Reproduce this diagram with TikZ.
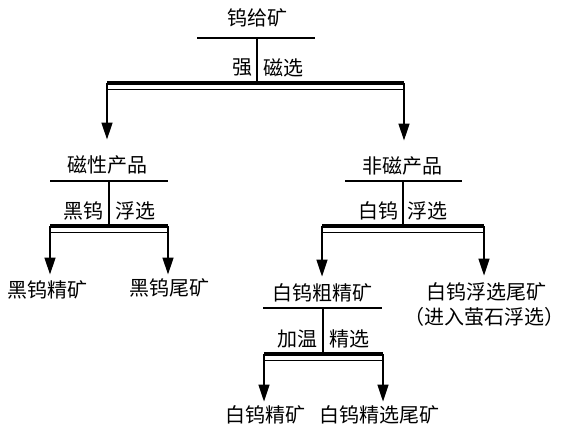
\documentclass[tikz,border=0pt]{standalone}
\usepackage{fontspec}
\newfontfamily\cjk{Noto Sans CJK SC}
\usepackage{tikz}
\usetikzlibrary{arrows.meta,positioning}

\begin{document}
\begin{tikzpicture}[
    x=1pt, y=-1pt,
    font=\cjk\fontsize{20}{24}\selectfont,
    txt/.style={inner sep=0pt},
    rule/.style={line width=1.3pt},
    bar/.style={line width=4.5pt},
    flow/.style={line width=1.3pt, -{Triangle[length=17pt, width=11pt]}}
  ]
    \useasboundingbox (0,0) rectangle (565,429);

    % products
    \node[txt] (feed)      at (257,18)  {钨给矿};
    \node[txt] (magn)      at (107,165) {磁性产品};
    \node[txt] (nonmag)    at (402,166) {非磁产品};
    \node[txt] (wfcon)     at (48,290)  {黑钨精矿};
    \node[txt] (wftail)    at (169,288) {黑钨尾矿};
    \node[txt] (schrough)  at (322,293) {白钨粗精矿};
    \node[txt] (schtail)   at (486,292) {白钨浮选尾矿};
    \node[txt] (schnote)   at (484,317) {（进入萤石浮选）};
    \node[txt] (schcon)    at (265,415) {白钨精矿};
    \node[txt] (schcltail) at (379,415) {白钨精选尾矿};

    % operations
    \node[txt] (opA-l) at (242,68)  {强};
    \node[txt] (opA-r) at (283,68)  {磁选};
    \node[txt] (opB-l) at (83,211)  {黑钨};
    \node[txt] (opB-r) at (135,211) {浮选};
    \node[txt] (opC-l) at (378,211) {白钨};
    \node[txt] (opC-r) at (427,211) {浮选};
    \node[txt] (opD-l) at (297,339) {加温};
    \node[txt] (opD-r) at (349,339) {精选};

    % strong magnetic separation
    \coordinate (A-l) at (197,38);  \coordinate (A-r) at (315,38);
    \coordinate (A-m) at (257,38);  \coordinate (A-j) at (257,83);
    \coordinate (A-bl) at (107,83); \coordinate (A-br) at (404,83);
    \draw[rule] (A-l) -- (A-r);
    \draw[rule] (A-m) -- (A-j);
    \draw[bar] (A-bl) -- (A-br);
    \draw[rule] ([yshift=-6.5pt]A-bl) -- ([yshift=-6.5pt]A-br);
    \draw[flow, shorten >=16pt] (A-bl) -- (A-bl |- magn.north);
    \draw[flow, shorten >=16pt] (A-br) -- (A-br |- nonmag.north);

    % wolframite flotation
    \coordinate (B-l) at (50,181);  \coordinate (B-r) at (168,181);
    \coordinate (B-m) at (109,181); \coordinate (B-j) at (109,226);
    \coordinate (B-bl) at (50,226); \coordinate (B-br) at (168,226);
    \draw[rule] (B-l) -- (B-r);
    \draw[rule] (B-m) -- (B-j);
    \draw[bar] (B-bl) -- (B-br);
    \draw[rule] ([yshift=-6.5pt]B-bl) -- ([yshift=-6.5pt]B-br);
    \draw[flow, shorten >=6pt] (B-bl) -- (B-bl |- wfcon.north);
    \draw[flow, shorten >=4pt] (B-br) -- (B-br |- wftail.north);

    % scheelite flotation
    \coordinate (C-l) at (345,181);  \coordinate (C-r) at (462,181);
    \coordinate (C-m) at (403,181);  \coordinate (C-j) at (403,226);
    \coordinate (C-bl) at (322,226); \coordinate (C-br) at (484,226);
    \draw[rule] (C-l) -- (C-r);
    \draw[rule] (C-m) -- (C-j);
    \draw[bar] (C-bl) -- (C-br);
    \draw[rule] ([yshift=-6.5pt]C-bl) -- ([yshift=-6.5pt]C-br);
    \draw[flow, shorten >=7pt] (C-bl) -- (C-bl |- schrough.north);
    \draw[flow, shorten >=7pt] (C-br) -- (C-br |- schtail.north);

    % heated cleaning
    \coordinate (D-l) at (263,308);  \coordinate (D-r) at (382,308);
    \coordinate (D-m) at (323,308);  \coordinate (D-j) at (323,354);
    \coordinate (D-bl) at (264,354); \coordinate (D-br) at (383,354);
    \draw[rule] (D-l) -- (D-r);
    \draw[rule] (D-m) -- (D-j);
    \draw[bar] (D-bl) -- (D-br);
    \draw[rule] ([yshift=-6.5pt]D-bl) -- ([yshift=-6.5pt]D-br);
    \draw[flow, shorten >=4pt] (D-bl) -- (D-bl |- schcon.north);
    \draw[flow, shorten >=4pt] (D-br) -- (D-br |- schcltail.north);
  \end{tikzpicture}
\end{document}
